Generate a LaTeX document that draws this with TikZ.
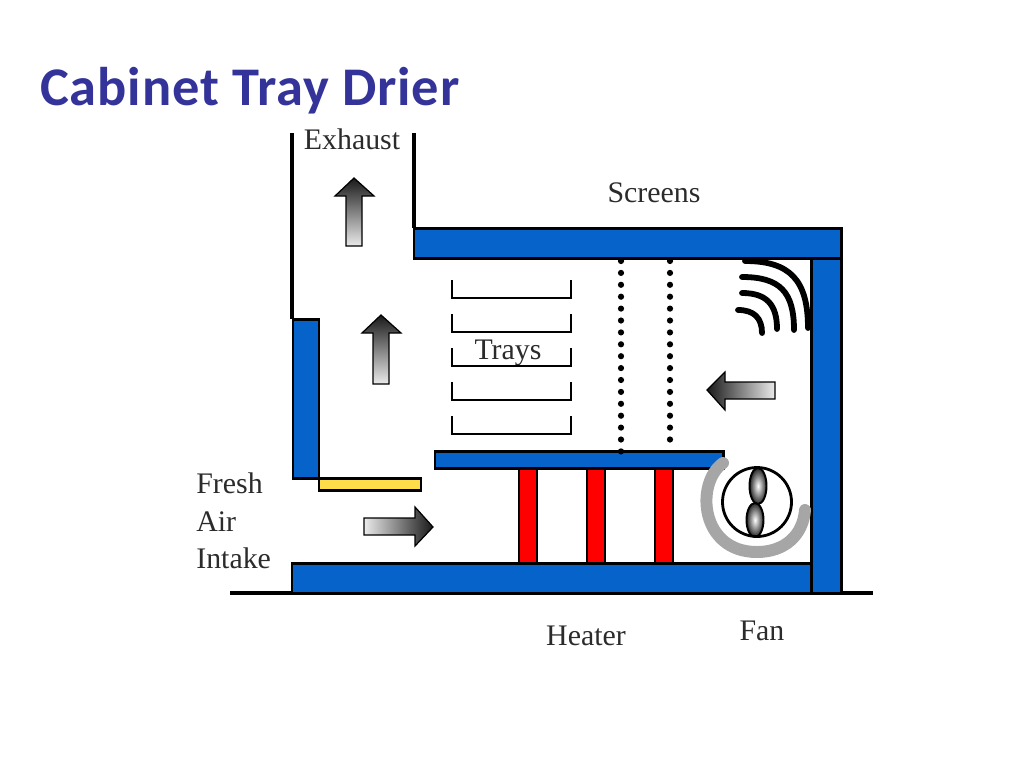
\documentclass[tikz,border=0pt]{standalone}
\usepackage{fontspec}
\setmainfont{Liberation Serif}
\newfontfamily\titlefont[LetterSpace=1.6]{Carlito}
\usepackage{xcolor}
\usepackage{tikz}
\definecolor{bluex}{HTML}{0563C9}
\definecolor{yellowx}{HTML}{FFDC4A}
\definecolor{titlex}{HTML}{333399}
\definecolor{grayx}{HTML}{A6A6A6}
\definecolor{labelx}{HTML}{2B2B2B}
\tikzset{
  wall/.style={draw=black,line width=1.7pt,fill=bluex},
  heatbar/.style={draw=black,line width=1.5pt,fill=red},
  wire/.style={black,line width=1.8pt},
  traybox/.style={black,line width=1.6pt},
  vane/.style={black,line width=3.3pt,line cap=round},
  flow/.style={draw=black,line width=0.7pt,miter limit=10},
  blade/.style={draw=black,line width=1.1pt,inner color=white,outer color=black!85},
  lbl/.style={font=\fontsize{17}{19}\selectfont,text=labelx,inner sep=0pt}
}
\begin{document}
\begin{tikzpicture}[x=0.02cm,y=-0.02cm]
\useasboundingbox (0,0) rectangle (1024,768);
% title and labels
\node[anchor=base west,inner sep=0pt,text=titlex,font=\titlefont\bfseries\fontsize{31}{34}\selectfont] (title) at (40,105) {Cabinet Tray Drier};
\node[lbl] (exhaust) at (352,139) {Exhaust};
\node[lbl] (screens) at (654,193) {Screens};
\node[lbl] (trays) at (508,353) {Trays};
\node[lbl,anchor=base west] (fresh) at (196,493) {Fresh};
\node[lbl,anchor=base west] (air) at (196,531) {Air};
\node[lbl,anchor=base west] (intake) at (196,568) {Intake};
\node[lbl] (heater) at (586,636) {Heater};
\node[lbl] (fan) at (762,631) {Fan};
% duct and ground
\draw[wire] (292,133)--(292,319);
\draw[wire] (414,133)--(414,228);
\draw[wire] (230,593)--(873,593);
% heater
\foreach \x in {519,587,655}
  \draw[heatbar] (\x,468) rectangle (\x+18,563);
% walls
\draw[wall] (414,228) rectangle (841,258);
\draw[wall] (293,319) rectangle (319,478);
\draw[wall] (292,563) rectangle (811,593);
\draw[wall] (811,258) rectangle (841,593);
\draw[wall] (435,451) rectangle (723,468);
\draw[draw=black,line width=1.7pt,fill=yellowx] (319,478) rectangle (421,490);
% trays
\foreach \y in {298,332,366,400,434}
  \draw[traybox] (452,\y-18)--(452,\y)--(571,\y)--(571,\y-18);
% screens
\foreach \i in {0,...,16}
  \fill (621,261+11.9*\i) circle[radius=3.1];
\foreach \i in {0,...,15}
  \fill (670,261+11.9*\i) circle[radius=3.1];
% vanes
\draw[vane] (745,261) .. controls (790,261) and (808,280) .. (808,328);
\draw[vane] (742,277) .. controls (780,277) and (794,292) .. (794,330);
\draw[vane] (742,293) .. controls (766,293) and (777,304) .. (777,329);
\draw[vane] (738,310) .. controls (754,310) and (762,318) .. (762,333);
% flow arrows
\draw[flow,top color=black!90,bottom color=white!92!black] (354,178)--(374,196)--(362,196)--(362,246)--(346,246)--(346,196)--(335,196)--cycle;
\draw[flow,top color=black!90,bottom color=white!92!black] (381,315)--(401,333)--(389,333)--(389,384)--(373,384)--(373,333)--(362,333)--cycle;
\draw[flow,left color=black!90,right color=white!92!black] (707,390)--(725,372)--(725,382)--(775,382)--(775,399)--(725,399)--(725,410)--cycle;
\draw[flow,right color=black!90,left color=white!92!black] (433,527)--(415,507)--(415,518)--(364,518)--(364,535)--(415,535)--(415,546)--cycle;
% fan
\draw[blade] (758,486) ellipse[x radius=8.5,y radius=18];
\draw[blade] (755,520) ellipse[x radius=8.5,y radius=17];
\draw[black,line width=1.6pt] (757,502) circle[radius=34.5];
\draw[grayx,line width=6.8pt,line cap=round] (723,463) .. controls (695,483) and (700,552) .. (757,552) .. controls (785,552) and (803,535) .. (805,510);
\end{tikzpicture}
\end{document}
